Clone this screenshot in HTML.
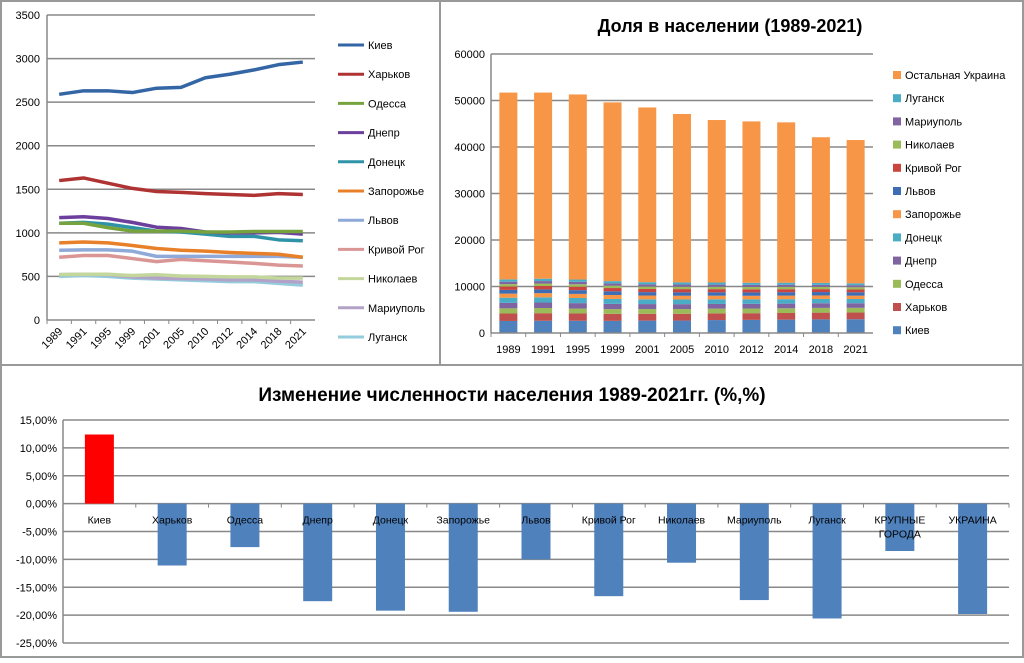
<!DOCTYPE html>
<html><head><meta charset="utf-8"><style>
body{margin:0;background:#fff;font-family:"Liberation Sans",sans-serif}
svg text{font-family:"Liberation Sans",sans-serif}
</style></head><body>
<svg id="s" width="1024" height="658" xmlns="http://www.w3.org/2000/svg">
<rect x="0" y="0" width="1024" height="658" fill="#fff"/>
<rect x="1" y="1" width="439" height="364" fill="none" stroke="#999" stroke-width="2"/>
<rect x="440" y="1" width="583" height="364" fill="none" stroke="#999" stroke-width="2"/>
<rect x="1" y="365" width="1022" height="292" fill="none" stroke="#999" stroke-width="2"/>
<text x="730" y="32" font-size="18" font-weight="bold" text-anchor="middle">Доля в населении (1989-2021)</text>
<text x="512" y="401" font-size="19" font-weight="bold" text-anchor="middle">Изменение численности населения 1989-2021гг. (%,%)</text>
<g id="g1"></g><g id="g2"></g><g id="g3"></g>
</svg>
<script>
const years=["1989","1991","1995","1999","2001","2005","2010","2012","2014","2018","2021"];
const cities=["Киев","Харьков","Одесса","Днепр","Донецк","Запорожье","Львов","Кривой Рог","Николаев","Мариуполь","Луганск"];
const kiev=[2590,2630,2630,2610,2660,2670,2780,2820,2870,2930,2960];
const kharkiv=[1600,1630,1570,1510,1475,1465,1450,1440,1430,1450,1440];
const odessa=[1110,1110,1060,1020,1020,1020,1010,1010,1015,1015,1015];
const dnepr=[1175,1185,1165,1120,1065,1050,1010,1000,1000,1005,985];
const donetsk=[1110,1120,1100,1060,1020,1010,985,960,960,920,910];
const zaporozhye=[885,895,885,855,820,800,790,775,765,755,720];
const lviv=[800,805,805,790,730,730,730,730,730,730,720];
const krivoyRog=[720,740,740,705,670,695,680,665,650,630,620];
const nikolaev=[520,525,525,510,520,505,500,495,495,480,480];
const mariupol=[520,525,520,495,480,475,470,460,460,445,435];
const lugansk=[500,510,500,480,470,460,450,440,440,420,400];
const totals=[51700,51700,51300,49600,48500,47100,45800,45500,45300,42100,41500];
const lineTicks=[0,500,1000,1500,2000,2500,3000,3500];
const stackTicks=[0,10000,20000,30000,40000,50000,60000];
const changeCats=["Киев","Харьков","Одесса","Днепр","Донецк","Запорожье","Львов","Кривой Рог","Николаев","Мариуполь","Луганск","КРУПНЫЕ|ГОРОДА","УКРАИНА"];
const changeVals=[12.4,-11.1,-7.8,-17.5,-19.2,-19.4,-10.0,-16.6,-10.6,-17.3,-20.6,-8.5,-19.8];
const changeTicks=[15,10,5,0,-5,-10,-15,-20,-25];

const NS="http://www.w3.org/2000/svg";
function mk(p,t,a,txt){const e=document.createElementNS(NS,t);for(const k in a)e.setAttribute(k,a[k]);if(txt!==undefined)e.textContent=txt;p.appendChild(e);return e;}
const series=[kiev,kharkiv,odessa,dnepr,donetsk,zaporozhye,lviv,krivoyRog,nikolaev,mariupol,lugansk];
const lineCol=["#3465a4","#b03333","#77a33f","#6b3f9b","#2f93a8","#e8802a","#8fa9d8","#d99694","#c3d69b","#b3a2c7","#93cddd"];
const stackCol=["#4f81bd","#c0504d","#9bbb59","#8064a2","#4bacc6","#f79646","#3d6db5","#c8463f","#9bbb59","#8064a2","#4bacc6","#f79646"];

// chart 1
const g1=document.getElementById('g1');
const x1L=47,x1R=315,y1T=15,y1B=320;
const bw1=(x1R-x1L)/years.length;
const xs1=i=>x1L+bw1*(i+0.5), ys1=v=>y1B-(v/3500)*(y1B-y1T);
lineTicks.forEach(t=>{
 if(t>0){const l=mk(g1,'line',{x1:x1L,x2:x1R,y1:ys1(t),y2:ys1(t),stroke:'#888','stroke-width':1.5});}
 const tx=mk(g1,'text',{x:x1L-7,y:ys1(t)+4,'font-size':11,'text-anchor':'end'},t);
 
});
mk(g1,'line',{x1:x1L,x2:x1L,y1:y1T,y2:y1B,stroke:'#888','stroke-width':1.5});
mk(g1,'line',{x1:x1L,x2:x1R,y1:y1B,y2:y1B,stroke:'#888','stroke-width':1.5});
years.forEach((y,i)=>{
 mk(g1,'line',{x1:x1L+bw1*i,x2:x1L+bw1*i,y1:y1B,y2:y1B+4,stroke:'#888'});
 const t=mk(g1,'text',{x:xs1(i)+4,y:y1B+12,'font-size':11,'text-anchor':'end',transform:`rotate(-45 ${xs1(i)+4} ${y1B+12})`},y);
 
});
for(let s=series.length-1;s>=0;s--){
 const p=mk(g1,'polyline',{points:series[s].map((v,i)=>xs1(i)+','+ys1(v)).join(' '),fill:'none',stroke:lineCol[s],'stroke-width':3.5,'stroke-linejoin':'round'});
 
}
cities.forEach((c,i)=>{
 const y=45+i*29.2;
 mk(g1,'line',{x1:338,x2:364,y1:y,y2:y,stroke:lineCol[i],'stroke-width':3});
 const t=mk(g1,'text',{x:368,y:y+4,'font-size':11},c);
 
});

// chart 2
const g2=document.getElementById('g2');
const x2L=491,x2R=873,y2T=54,y2B=333;
const bw2=(x2R-x2L)/years.length;
const xs2=i=>x2L+bw2*(i+0.5), ys2=v=>y2B-(v/60000)*(y2B-y2T);
stackTicks.forEach(t=>{
 if(t>0){const l=mk(g2,'line',{x1:x2L,x2:x2R,y1:ys2(t),y2:ys2(t),stroke:'#888','stroke-width':1.5});}
 const tx=mk(g2,'text',{x:x2L-6,y:ys2(t)+4,'font-size':11,'text-anchor':'end'},t);
 
});
years.forEach((yr,i)=>{
 let acc=0;
 const vals=series.map(s=>s[i]);
 const sum=vals.reduce((a,b)=>a+b,0);
 vals.push(totals[i]-sum);
 vals.forEach((v,k)=>{
  const r=mk(g2,'rect',{x:xs2(i)-9,y:ys2(acc+v),width:18,height:ys2(acc)-ys2(acc+v),fill:stackCol[k]});
  
  acc+=v;
 });
 mk(g2,'line',{x1:x2L+bw2*i,x2:x2L+bw2*i,y1:y2B,y2:y2B+4,stroke:'#888'});
 const t=mk(g2,'text',{x:xs2(i),y:y2B+20,'font-size':11,'text-anchor':'middle'},yr);
 
});
mk(g2,'line',{x1:x2L,x2:x2L,y1:y2T,y2:y2B,stroke:'#888','stroke-width':1.5});
mk(g2,'line',{x1:x2L,x2:x2R,y1:y2B,y2:y2B,stroke:'#888','stroke-width':1.5});
const legNames=cities.concat(["Остальная Украина"]);
for(let k=legNames.length-1;k>=0;k--){
 const y=75+(legNames.length-1-k)*23.2;
 mk(g2,'rect',{x:893,y:y-4,width:8,height:8,fill:stackCol[k]});
 const t=mk(g2,'text',{x:905,y:y+4,'font-size':11},legNames[k]);
 
}

// chart 3
const g3=document.getElementById('g3');
const x3L=63,x3R=1009,y3T=420,y3B=643;
const bw3=(x3R-x3L)/changeCats.length;
const xs3=i=>x3L+bw3*(i+0.5), ys3=v=>y3T+(15-v)/40*(y3B-y3T);
changeTicks.forEach(t=>{
 const l=mk(g3,'line',{x1:x3L,x2:x3R,y1:ys3(t),y2:ys3(t),stroke:'#888','stroke-width':1.5});
 
 const tx=mk(g3,'text',{x:x3L-6,y:ys3(t)+4,'font-size':11,'text-anchor':'end'},t.toFixed(2).replace('.',',')+'%');
 
});
mk(g3,'line',{x1:x3L,x2:x3L,y1:y3T,y2:y3B,stroke:'#888','stroke-width':1.5});
changeVals.forEach((v,i)=>{
 const y0=ys3(0),y1=ys3(v);
 const r=mk(g3,'rect',{x:xs3(i)-14.5,y:Math.min(y0,y1),width:29,height:Math.abs(y1-y0),fill:v>0?'#ff0000':'#4f81bd'});
 
 mk(g3,'line',{x1:x3L+bw3*i,x2:x3L+bw3*i,y1:y0,y2:y0+4,stroke:'#888'});
});
mk(g3,'line',{x1:x3R,x2:x3R,y1:ys3(0),y2:ys3(0)+4,stroke:'#888'});
changeCats.forEach((c,i)=>{
 c.split('|').forEach((p,j)=>{
  const t=mk(g3,'text',{x:xs3(i),y:ys3(0)+20+j*14,'font-size':10.5,'text-anchor':'middle'},p);
  
 });
});
</script>
</body></html>
